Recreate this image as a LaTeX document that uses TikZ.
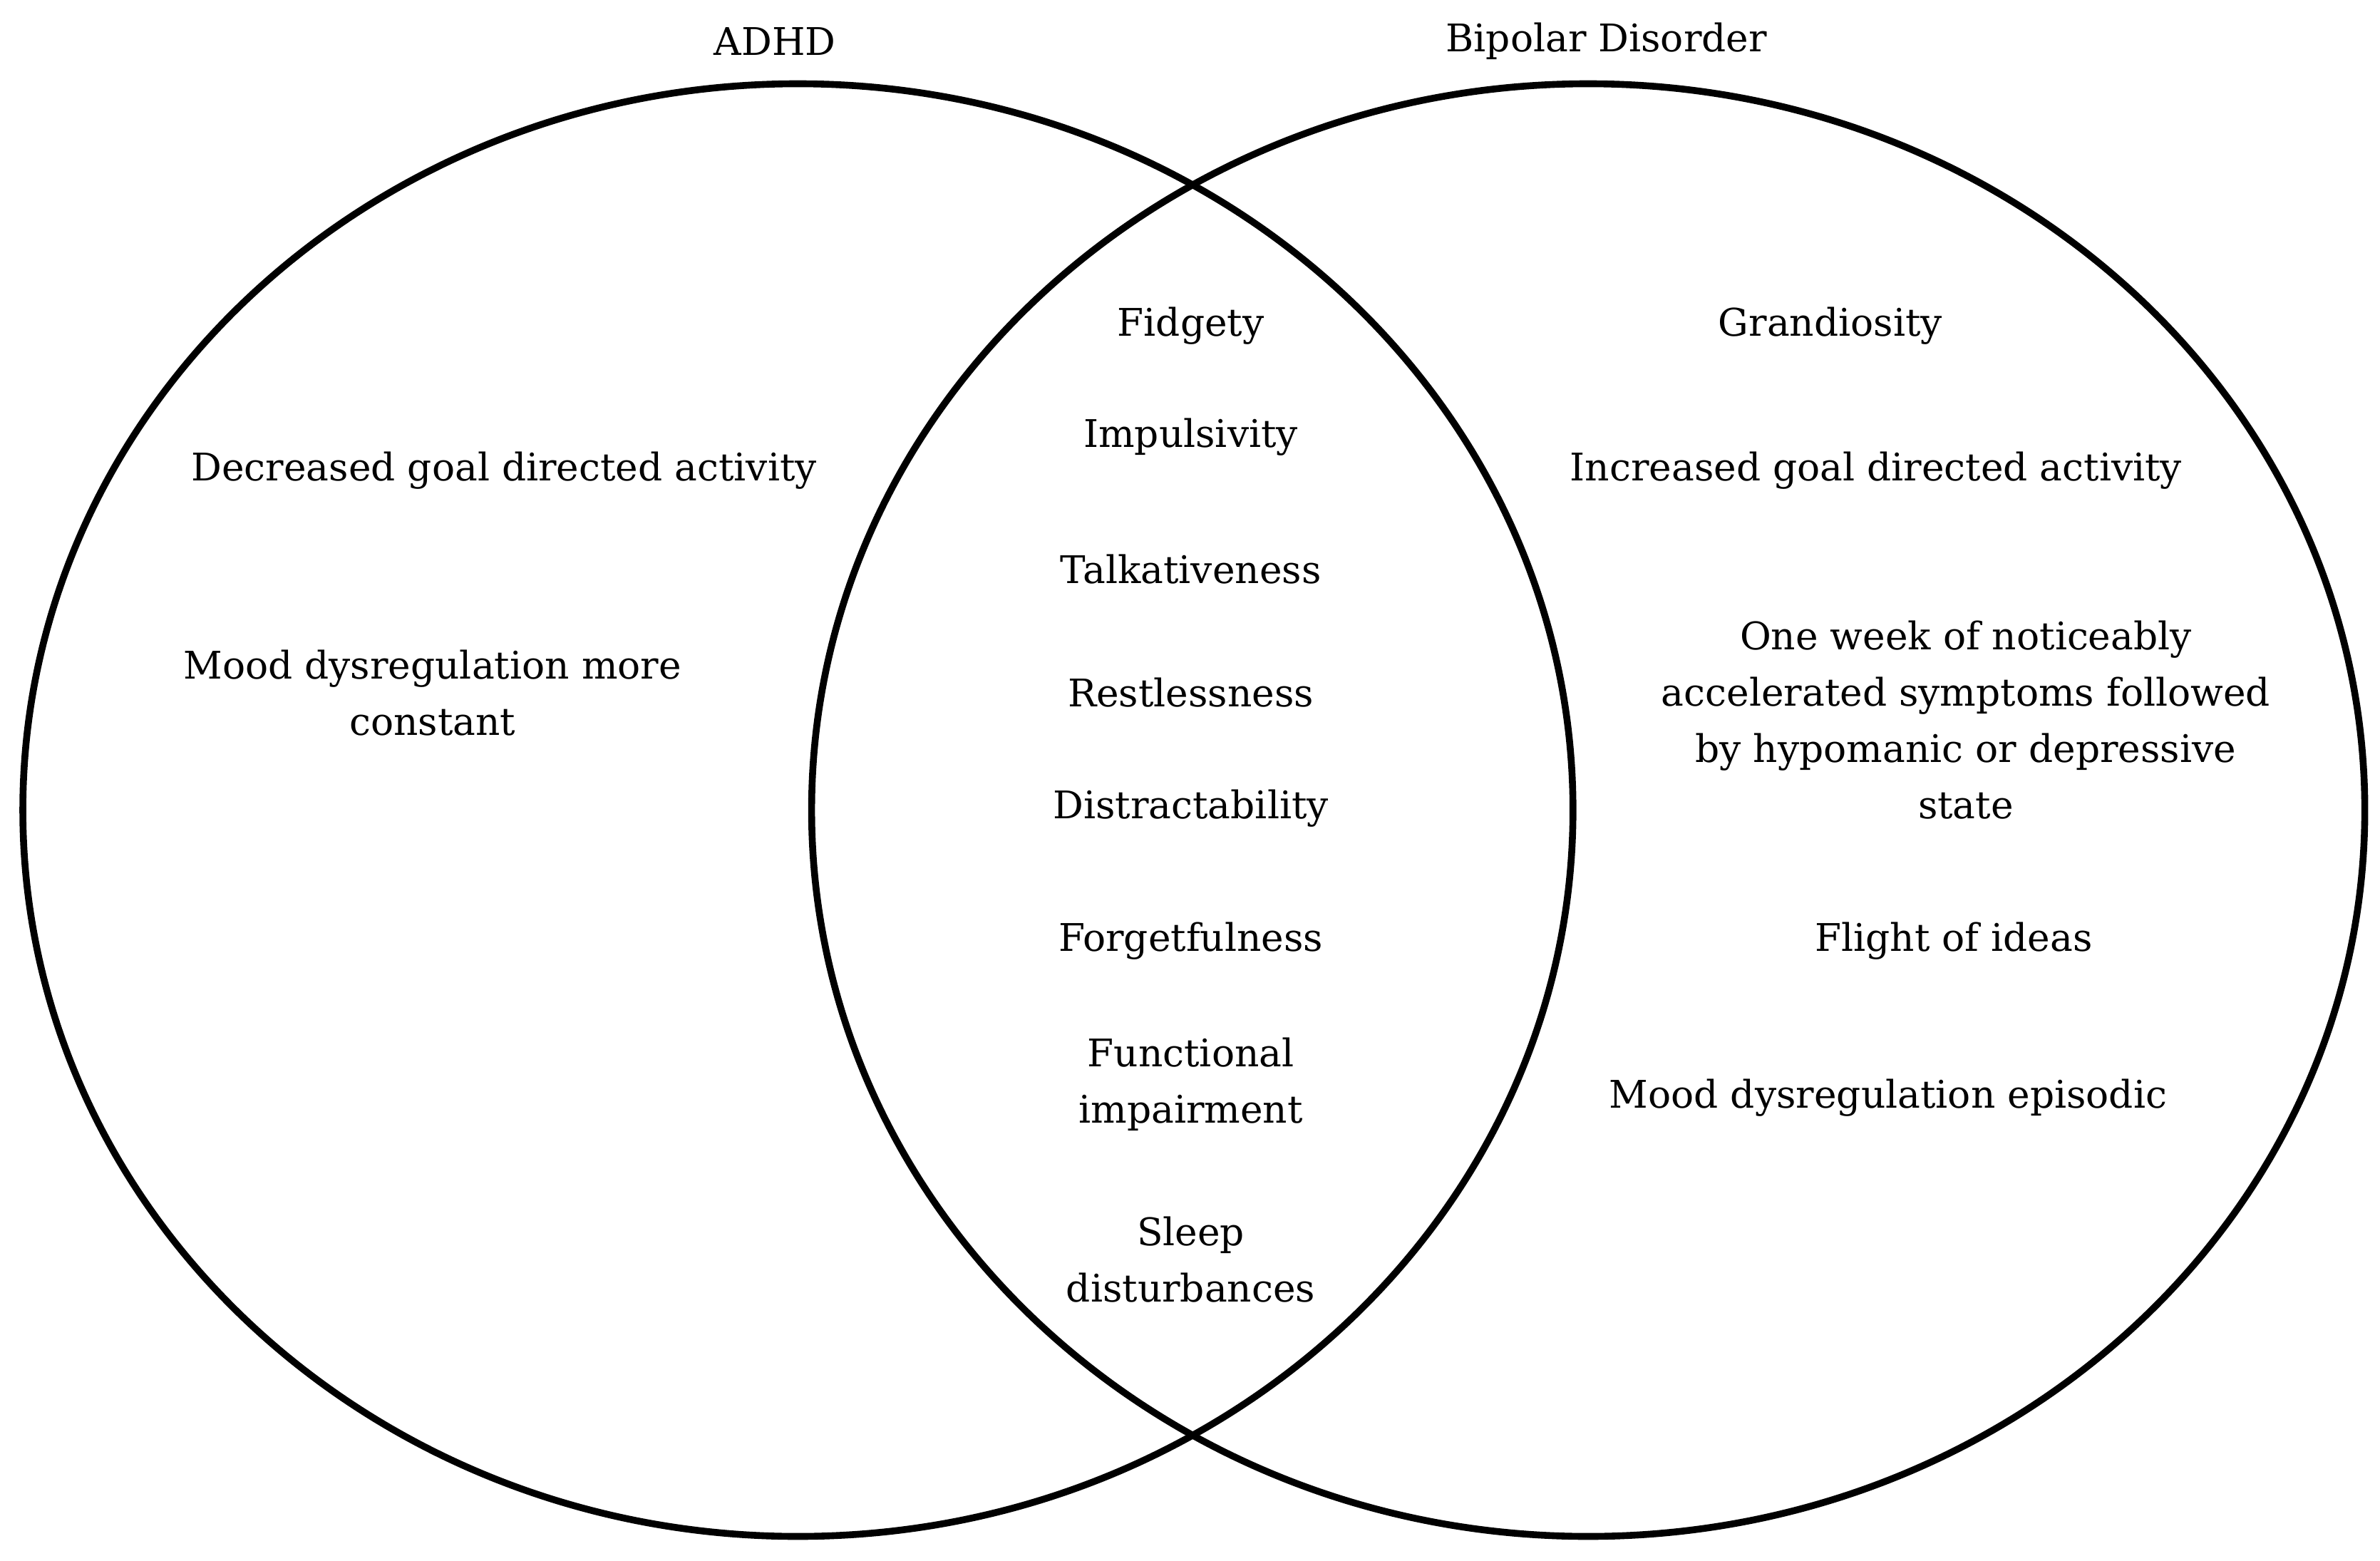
\documentclass[tikz,border=0pt]{standalone}
\usepackage{fontspec}
\setmainfont{DejaVu Serif}
\begin{document}
\begin{tikzpicture}[x=1pt,y=-1pt,
  t/.style={font=\fontsize{25}{37}\selectfont,align=center,inner sep=0pt},
  c/.style={line width=4.5pt}]
\useasboundingbox (0,0) rectangle (1563,1025);
\draw[c] (524,532) ellipse [x radius=509, y radius=477];
\draw[c] (1043,532) ellipse [x radius=510, y radius=477];
\node[t] (a) at (509,27) {ADHD};
\node[t] (b) at (1055,27) {Bipolar Disorder};
\node[t] (l1) at (331,309) {Decreased goal directed activity};
\node[t] (l2) at (284,455) {Mood dysregulation more\\constant};
\node[t] (m1) at (782,214) {Fidgety};
\node[t] (m2) at (782,287) {Impulsivity};
\node[t] (m3) at (782,374) {Talkativeness};
\node[t] (m4) at (782,455) {Restlessness};
\node[t] (m5) at (782,531) {Distractability};
\node[t] (m6) at (782,618) {Forgetfulness};
\node[t] (m7) at (782,712) {Functional\\impairment};
\node[t] (m8) at (782,827) {Sleep\\disturbances};
\node[t] (r1) at (1202,214) {Grandiosity};
\node[t] (r2) at (1232,309) {Increased goal directed activity};
\node[t] (r3) at (1291,473) {One week of noticeably\\accelerated symptoms followed\\by hypomanic or depressive\\state};
\node[t] (r4) at (1283,618) {Flight of ideas};
\node[t] (r5) at (1240,721) {Mood dysregulation episodic};
\end{tikzpicture}
\end{document}
